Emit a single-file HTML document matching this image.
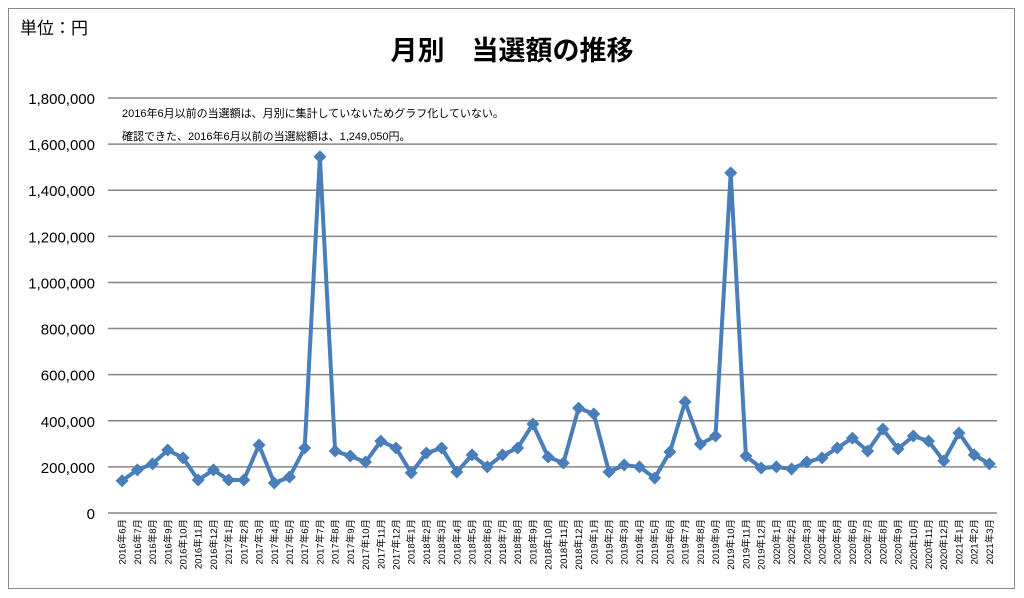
<!DOCTYPE html>
<html><head><meta charset="utf-8">
<style>
body{margin:0;background:#fff;}
svg text{font-family:"Liberation Sans","Noto Sans CJK JP",sans-serif;}
</style></head>
<body>
<svg id="chart" width="1024" height="593" xmlns="http://www.w3.org/2000/svg">
<rect x="8.5" y="8.5" width="1006" height="580" fill="#fff" stroke="#888" stroke-width="1"/>
<text x="20" y="34" font-size="17" fill="#000">単位：円</text>
<text x="512" y="60" font-size="27" font-weight="bold" text-anchor="middle" fill="#000">月別　当選額の推移</text>
<text x="122" y="117" font-size="11" fill="#000">2016年6月以前の当選額は、月別に集計していないためグラフ化していない。</text>
<text x="122" y="140" font-size="11" fill="#000">確認できた、2016年6月以前の当選総額は、1,249,050円。</text>
<g id="grid"></g><g id="series"></g><g id="xlabels"></g>
</svg>
<script>
const yTickValues=[0,200000,400000,600000,800000,1000000,1200000,1400000,1600000,1800000];
const yTickLabels=["0","200,000","400,000","600,000","800,000","1,000,000","1,200,000","1,400,000","1,600,000","1,800,000"];
const months=["2016年6月","2016年7月","2016年8月","2016年9月","2016年10月","2016年11月","2016年12月","2017年1月","2017年2月","2017年3月","2017年4月","2017年5月","2017年6月","2017年7月","2017年8月","2017年9月","2017年10月","2017年11月","2017年12月","2018年1月","2018年2月","2018年3月","2018年4月","2018年5月","2018年6月","2018年7月","2018年8月","2018年9月","2018年10月","2018年11月","2018年12月","2019年1月","2019年2月","2019年3月","2019年4月","2019年5月","2019年6月","2019年7月","2019年8月","2019年9月","2019年10月","2019年11月","2019年12月","2020年1月","2020年2月","2020年3月","2020年4月","2020年5月","2020年6月","2020年7月","2020年8月","2020年9月","2020年10月","2020年11月","2020年12月","2021年1月","2021年2月","2021年3月"];
const winnings=[140000,187000,213000,273000,239000,143000,187000,143000,143000,295000,130000,156000,282000,1545000,269000,247000,221000,312000,282000,174000,260000,282000,178000,252000,200000,252000,282000,386000,243000,217000,455000,430000,178000,208000,200000,152000,265000,482000,299000,334000,1475000,247000,195000,200000,191000,221000,239000,282000,325000,269000,364000,278000,334000,312000,226000,347000,252000,213000];

const NS="http://www.w3.org/2000/svg";
const plotL=114.5, plotR=997, plotT=98, plotB=513, yMax=1800000;
const band=(plotR-plotL)/months.length;
const xPos=i=>plotL+band*(i+0.5);
const yPos=v=>plotB-(v/yMax)*(plotB-plotT);
function mk(tag,attrs,parent){const e=document.createElementNS(NS,tag);for(const k in attrs)e.setAttribute(k,attrs[k]);parent.appendChild(e);return e;}
const grid=document.getElementById('grid');
yTickValues.forEach((v,i)=>{
  const y=yPos(v);
  const l=mk('line',{x1:108,x2:plotR,y1:y,y2:y,stroke:'#868686','stroke-width':1.5},grid);
  
  
  const t=mk('text',{x:95,y:y+6,'font-size':15,'text-anchor':'end',fill:'#000'},grid);
  t.textContent=yTickLabels[i];
  
  
});
const ser=document.getElementById('series');
const pts=winnings.map((v,i)=>xPos(i).toFixed(1)+','+yPos(v).toFixed(1)).join(' ');
const pl=mk('polyline',{points:pts,fill:'none',stroke:'#4a7ebb','stroke-width':4,'stroke-linejoin':'round'},ser);


winnings.forEach((v,i)=>{
  const x=xPos(i),y=yPos(v),s=6.5;
  const p=mk('polygon',{points:`${x},${y-s} ${x+s},${y} ${x},${y+s} ${x-s},${y}`,fill:'#4a7ebb'},ser);
  
  
});
const xl=document.getElementById('xlabels');
months.forEach((m,i)=>{
  const x=xPos(i)+3.5,y=519;
  const t=mk('text',{x:0,y:0,'font-size':9.5,'text-anchor':'end',fill:'#000',transform:`translate(${x},${y}) rotate(-90)`},xl);
  t.textContent=m;
  
  
});
</script>
</body></html>
